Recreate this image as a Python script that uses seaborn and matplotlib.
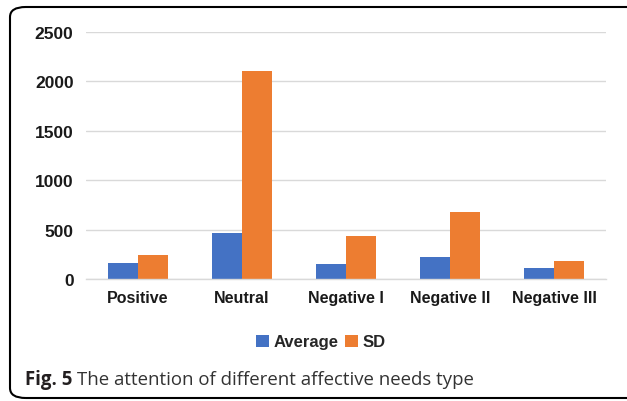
import numpy as np
import pandas as pd
import matplotlib
matplotlib.use("Agg")
import matplotlib.pyplot as plt
from matplotlib.patches import FancyBboxPatch
from matplotlib.ticker import FixedLocator
import seaborn as sns

# data
categories = ["Positive", "Neutral", "Negative I", "Negative II", "Negative III"]
average = [160, 470, 150, 220, 110]
sd = [240, 2100, 430, 675, 185]
series = ["Average", "SD"]
colors = ["#4472C4", "#ED7D31"]

df = pd.DataFrame({
    "type": categories * 2,
    "series": ["Average"] * len(categories) + ["SD"] * len(categories),
    "value": average + sd,
})

sns.set_style("white")
plt.rcParams["font.family"] = ["Liberation Sans", "DejaVu Sans"]

fig = plt.figure(figsize=(6.27, 4.02), dpi=100)
ax = fig.add_axes([86 / 627, 1 - 280 / 402, 520 / 627, 247.3 / 402])

sns.barplot(data=df, x="type", y="value", hue="series", hue_order=series,
            palette=colors, width=0.58, gap=0, saturation=1, ax=ax,
            edgecolor="none", linewidth=0)

ax.set_ylim(0, 2500)
ax.set_yticks(np.arange(0, 2501, 500))
ax.set_xlim(-0.5, len(categories) - 0.5)
ax.grid(axis="y", color="#d9d9d9", linewidth=1)
ax.set_axisbelow(True)
ax.set_xlabel("")
ax.set_ylabel("")
for s in ["top", "right", "left"]:
    ax.spines[s].set_visible(False)
ax.spines["bottom"].set_color("#d9d9d9")
ax.spines["bottom"].set_linewidth(1)

ax.tick_params(axis="y", length=0, pad=9, labelsize=12.5)
ax.tick_params(axis="x", length=0, pad=8, labelsize=11.5)
for lab in ax.get_xticklabels() + ax.get_yticklabels():
    lab.set_fontweight("bold")
    lab.set_color("#1a1a1a")

# small separators between categories
ax.xaxis.set_minor_locator(FixedLocator(np.arange(0.5, len(categories), 1.0)))
ax.tick_params(axis="x", which="minor", length=8, direction="inout",
               color="#d9d9d9", width=1)

handles, labels = ax.get_legend_handles_labels()
ax.legend_.remove()
fig.legend(handles, labels, loc="center", bbox_to_anchor=(321 / 627, 1 - 343 / 402),
           ncol=2, frameon=False, handlelength=0.75, handleheight=0.75,
           handletextpad=0.3, columnspacing=0.4,
           prop={"weight": "bold", "size": 12})

# rounded frame
frame = FancyBboxPatch((10 / 627, 1 - 399 / 402), 640 / 627, 391 / 402,
                       boxstyle="round,pad=0,rounding_size=0.025",
                       transform=fig.transFigure, fill=False,
                       edgecolor="black", linewidth=1.5)
fig.patches.append(frame)

# caption
t1 = fig.text(25 / 627, 1 - 380 / 402, "Fig. 5", fontsize=13.4, fontweight="bold",
              family="Open Sans", va="center", ha="left", color="#231f20")
fig.canvas.draw()
bb = t1.get_window_extent(fig.canvas.get_renderer())
fig.text(bb.x1 / fig.bbox.width + 5 / 627, 1 - 380 / 402,
         "The attention of different affective needs type", fontsize=13.4,
         family="Open Sans", va="center", ha="left", color="#333333")

fig.savefig("out.png", dpi=100)
